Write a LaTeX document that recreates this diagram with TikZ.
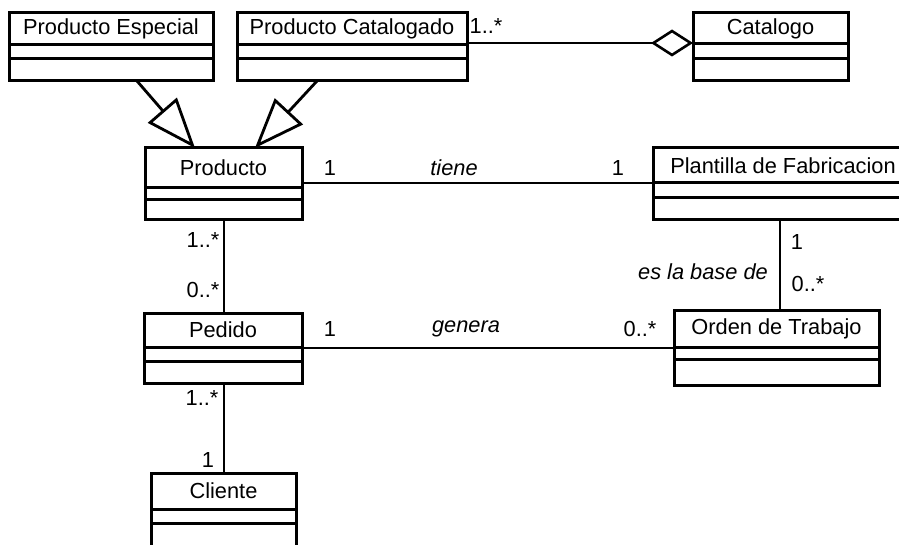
\documentclass[tikz,border=0pt]{standalone}
\usepackage{fontspec}
\setmainfont{Liberation Sans}
\usetikzlibrary{arrows.meta,calc}

% A UML class: name, x, y (top-left), width, height,
% bottom of name compartment, bottom of attribute compartment, class name
\newcommand{\umlclassbox}[8]{%
  \node[classbox, minimum width=#4pt, minimum height=#5pt] (#1) at (#2,#3) {};
  \draw[compart] ([yshift=-#6pt]#1.north west) -- ([yshift=-#6pt]#1.north east);
  \draw[compart] ([yshift=-#7pt]#1.north west) -- ([yshift=-#7pt]#1.north east);
  \node[cname] (#1-title) at ($(#1.north)+(0,#6/2)$) {#8};
}

\begin{document}
\begin{tikzpicture}[x=1pt,y=-1pt,
  classbox/.style={draw, line width=3pt, fill=white, rectangle, anchor=north west,
    inner sep=0pt, outer sep=0pt},
  compart/.style={line width=3pt},
  conn/.style={line width=2.8pt},
  thinconn/.style={line width=2.2pt},
  gen/.style={conn, -{Triangle[open,length=50pt,width=38pt,line width=2.8pt]}},
  agg/.style={thinconn, -{Diamond[open,length=42pt,width=27pt,line width=2.6pt]}},
  cname/.style={font=\fontsize{21.8}{24}\selectfont, inner sep=0pt},
  mult/.style={font=\fontsize{21.8}{24}\selectfont, inner sep=0pt},
  role/.style={font=\fontsize{21.8}{24}\selectfont\itshape, inner sep=0pt}]

\useasboundingbox (0,0) rectangle (899,545);
\clip (0,0) rectangle (899,545);
\fill[white] (0,0) rectangle (899,545);

% classes
\umlclassbox{pe}{9}{13}{204}{68}{32}{46}{Producto Especial}
\umlclassbox{pc}{237}{13}{230}{68}{32}{46}{Producto Catalogado}
\umlclassbox{cat}{693}{13}{155}{68}{31}{46}{Catalogo}
\umlclassbox{prod}{145}{148}{157}{72}{40}{52}{Producto}
\umlclassbox{plant}{653}{148}{260}{72}{35}{50}{Plantilla de Fabricacion}
\umlclassbox{ped}{144}{313}{158}{70}{34}{48}{Pedido}
\umlclassbox{orden}{674}{310}{205}{75}{37}{49}{Orden de Trabajo}
\umlclassbox{cli}{151}{473}{145}{95}{36}{50}{Cliente}

% generalizations
\draw[gen] ([xshift=128pt]pe.south west) -- ([xshift=50pt]prod.north west);
\draw[gen] ([xshift=80pt]pc.south west) -- ([xshift=110pt]prod.north west);

% aggregation
\draw[agg] ([yshift=-30pt]pc.north east) -- ([yshift=-30pt]cat.north west);
\node[mult] (m-pc) at (486,26) {1..*};

% tiene
\draw[conn] ([yshift=-35pt]prod.north east) -- ([yshift=-35pt]plant.north west);
\node[mult] (m-prod-t) at (330,168) {1};
\node[role] (r-tiene) at (454,168) {tiene};
\node[mult] (m-plant-t) at (618,168) {1};

% es la base de
\draw[conn] ([xshift=127pt]plant.south west) -- ([xshift=106pt]orden.north west);
\node[mult] (m-plant-b) at (797,242) {1};
\node[role] (r-base) at (703,272) {es la base de};
\node[mult] (m-orden-b) at (808,284) {0..*};

% genera
\draw[thinconn] ([yshift=-35pt]ped.north east) -- ([yshift=-38pt]orden.north west);
\node[mult] (m-ped-g) at (330,329) {1};
\node[role] (r-genera) at (466,329) {genera};
\node[mult] (m-orden-g) at (640,329) {0..*};

% Producto -- Pedido
\draw[conn] ([xshift=79pt]prod.south west) -- ([xshift=80pt]ped.north west);
\node[mult] (m-prod-p) at (203,240) {1..*};
\node[mult] (m-ped-p) at (203,290) {0..*};

% Pedido -- Cliente
\draw[conn] ([xshift=80pt]ped.south west) -- ([xshift=73pt]cli.north west);
\node[mult] (m-ped-c) at (202,398) {1..*};
\node[mult] (m-cli-c) at (208,460) {1};

\end{tikzpicture}
\end{document}
